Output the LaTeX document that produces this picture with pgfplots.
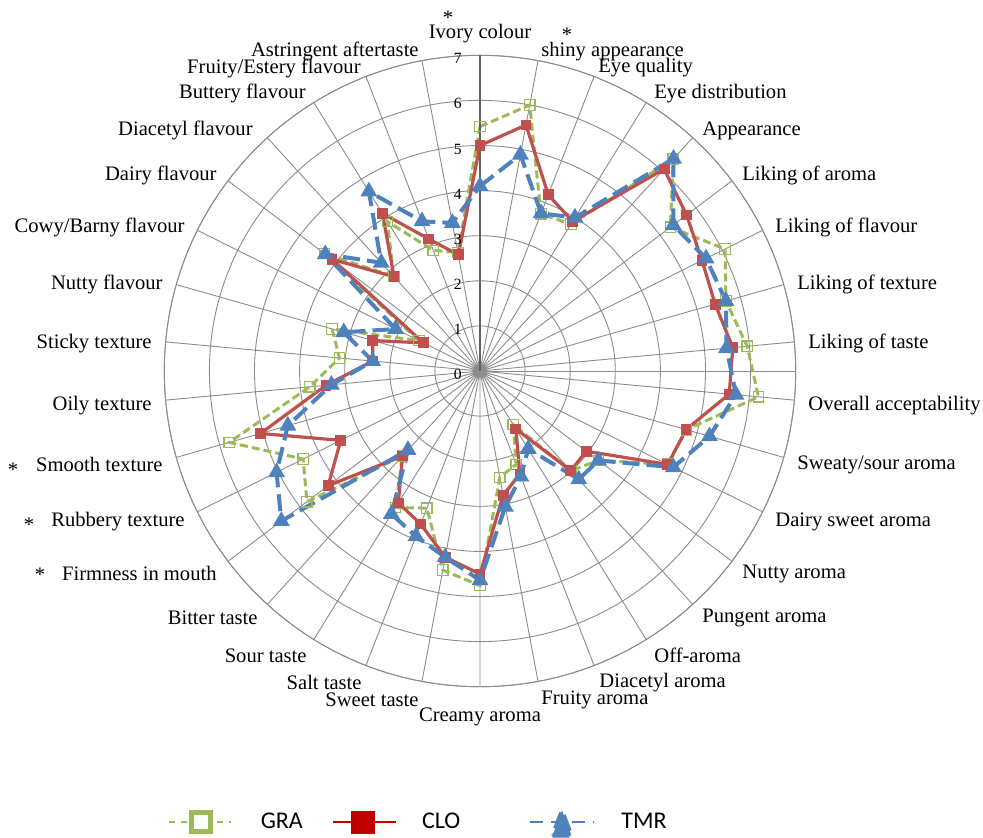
\documentclass[border=0pt]{standalone}
\usepackage{pgfplots}
\pgfplotsset{compat=1.18}
\usepgfplotslibrary{polar}
\usepackage{fontspec}
\setmainfont{Liberation Serif}
\newfontfamily\legendfont{Carlito}
\definecolor{gra}{HTML}{9BBB59}
\definecolor{clo}{HTML}{C0504D}
\definecolor{tmr}{HTML}{4F81BD}
\definecolor{clolegend}{HTML}{C00000}
\definecolor{gridgray}{HTML}{8C8C8C}

% index of each attribute, clockwise from the top (0 = Ivory colour), radius = score
\pgfplotstableread{
idx GRA  CLO  TMR
0   5.42 5.00 4.10
1   6.00 5.55 4.88
2   3.74 4.19 3.75
3   3.83 3.90 4.00
4   6.36 6.06 6.37
5   5.29 5.74 5.37
6   6.07 5.50 5.60
7   5.67 5.42 5.67
8   5.95 5.63 5.49
9   6.20 5.55 5.70
10  4.76 4.75 5.29
11  4.64 4.65 4.79
12  3.29 2.95 3.29
13  2.99 2.99 3.25
14  1.40 1.51 2.03
15  2.22 2.45 2.51
16  2.40 2.80 3.06
17  4.76 4.50 4.64
18  4.49 4.20 4.20
19  3.26 3.64 3.93
20  3.56 3.44 3.73
21  2.55 2.55 2.37
22  4.81 4.22 5.52
23  4.38 3.45 5.04
24  5.78 5.06 4.43
25  3.79 3.43 3.31
26  3.13 2.39 2.39
27  3.41 2.47 3.14
28  1.51 1.40 2.09
29  4.32 4.11 4.30
30  2.84 2.83 3.25
31  3.90 4.11 4.68
32  2.87 3.14 3.56
33  2.67 2.62 3.34
}\sensory

\begin{document}
\begin{tikzpicture}
\path[use as bounding box] (-240pt,-233pt) rectangle (251.5pt,185.5pt);
\begin{polaraxis}[
  at={(0,0)}, anchor=center,
  scale only axis, width=315.7pt, height=315.7pt,
  xmin=0, xmax=360, ymin=0, ymax=7,
  xtick={5.2941176,15.882353,...,360},
  xticklabels={},
  ytick={0,1,...,7}, yticklabels={},
  xmajorgrids, ymajorgrids,
  major grid style={draw=gridgray, line width=0.45pt},
  axis line style={draw=gridgray, line width=0.45pt},
  major tick length=0pt,
  x filter/.expression={90-x*360/34},
  clip=false,
  legend columns=3,
  legend style={draw=none, fill=none, inner sep=0pt, outer sep=0pt,
    at={(0.0063,-0.2159)}, anchor=west,
    font=\legendfont\fontsize{12}{14}\selectfont,
    column sep=0pt, nodes={inner xsep=0pt}},
]
\addplot[gra, line width=1.5pt, dash pattern=on 4pt off 2pt,
  mark=square, mark size=2.6pt, mark options={solid, line width=0.6pt, draw=gra},
  legend image code/.code={
    \path[draw=none, fill=none] (0pt,0pt) -- (45.8pt,0pt);
    \draw[gra, solid, line width=0.9pt, dash pattern=on 3pt off 3pt] (0pt,0pt) -- (31pt,0pt);
    \draw[gra, solid, line width=2.5pt, fill=white] (11.25pt,-4.6pt) rectangle (20.45pt,4.6pt);
  }]
  table[x=idx, y=GRA] {\sensory} -- cycle;
\addlegendentry{\makebox[35.5pt][l]{GRA}}
\addplot[clo, line width=1.6pt,
  mark=square*, mark size=1.9pt, mark options={solid, fill=clo, draw=clo},
  legend image code/.code={
    \path[draw=none, fill=none] (0pt,0pt) -- (44.5pt,0pt);
    \draw[clolegend, solid, line width=1.3pt] (0pt,0pt) -- (31.7pt,0pt);
    \fill[clolegend] (10pt,-5pt) rectangle (20pt,5pt);
  }]
  table[x=idx, y=CLO] {\sensory} -- cycle;
\addlegendentry{\makebox[53.3pt][l]{CLO}}
\addplot[tmr, line width=2pt, dash pattern=on 8.5pt off 3.5pt,
  mark=triangle*, mark size=2.9pt, mark options={solid, fill=tmr, draw=tmr},
  legend image code/.code={
    \path[draw=none, fill=none] (0pt,0pt) -- (45.8pt,0pt);
    \draw[tmr, solid, line width=1.2pt, dash pattern=on 6.5pt off 4pt] (0pt,0pt) -- (31.7pt,0pt);
    \fill[tmr] (11.3pt,-6.7pt) -- (20.8pt,-6.7pt) -- (16.05pt,5.8pt) -- cycle;
  }]
  table[x=idx, y=TMR] {\sensory} -- cycle;
\addlegendentry{TMR}
\draw[gridgray!70!black, line width=0.9pt] (axis cs:90,0) -- (axis cs:90,7);
\end{polaraxis}

% labels, placed in pixel units of the reference (centre at 480,371)
\begin{scope}[x=0.5pt, y=-0.5pt, shift={(-480,-368.5)},
  every node/.style={inner sep=0pt, font=\fontsize{10.3}{12}\selectfont}]
\foreach \v in {0,...,7}
  \node[anchor=east, font=\fontsize{7.8}{9}\selectfont] at (462, 372-45.1*\v) {\v};
\node[anchor=center] at (480,31) {Ivory colour};
\node[anchor=west] at (541,49) {shiny appearance};
\node[anchor=west] at (598,65) {Eye quality};
\node[anchor=west] at (654,91) {Eye distribution};
\node[anchor=west] at (702,128) {Appearance};
\node[anchor=west] at (742,173) {Liking of aroma};
\node[anchor=west] at (775,225) {Liking of flavour};
\node[anchor=west] at (797,282) {Liking of texture};
\node[anchor=west] at (808,341) {Liking of taste};
\node[anchor=west] at (808,403) {Overall acceptability};
\node[anchor=west] at (797,462) {Sweaty/sour aroma};
\node[anchor=west] at (775,519) {Dairy sweet aroma};
\node[anchor=west] at (742,571) {Nutty aroma};
\node[anchor=west] at (702,615) {Pungent aroma};
\node[anchor=west] at (654,653) {Off-aroma};
\node[anchor=west] at (599,680) {Diacetyl aroma};
\node[anchor=west] at (541,697) {Fruity aroma};
\node[anchor=center] at (480,714) {Creamy aroma};
\node[anchor=east] at (419,697) {Sweet taste};
\node[anchor=east] at (362,680) {Salt taste};
\node[anchor=east] at (307,653) {Sour taste};
\node[anchor=east] at (258,615) {Bitter taste};
\node[anchor=east] at (217,571) {Firmness in mouth};
\node[anchor=east] at (185,519) {Rubbery texture};
\node[anchor=east] at (163,462) {Smooth texture};
\node[anchor=east] at (152,403) {Oily texture};
\node[anchor=east] at (152,341) {Sticky texture};
\node[anchor=east] at (163,282) {Nutty flavour};
\node[anchor=east] at (185,225) {Cowy/Barny flavour};
\node[anchor=east] at (217,173) {Dairy flavour};
\node[anchor=east] at (253,128) {Diacetyl flavour};
\node[anchor=east] at (306,91) {Buttery flavour};
\node[anchor=east] at (361,66) {Fruity/Estery flavour};
\node[anchor=east] at (419,49) {Astringent aftertaste};
\foreach \p in {(448,15),(567,32),(13,467),(29,522),(40,572)}
  \node at \p {*};
\end{scope}
\end{tikzpicture}
\end{document}
